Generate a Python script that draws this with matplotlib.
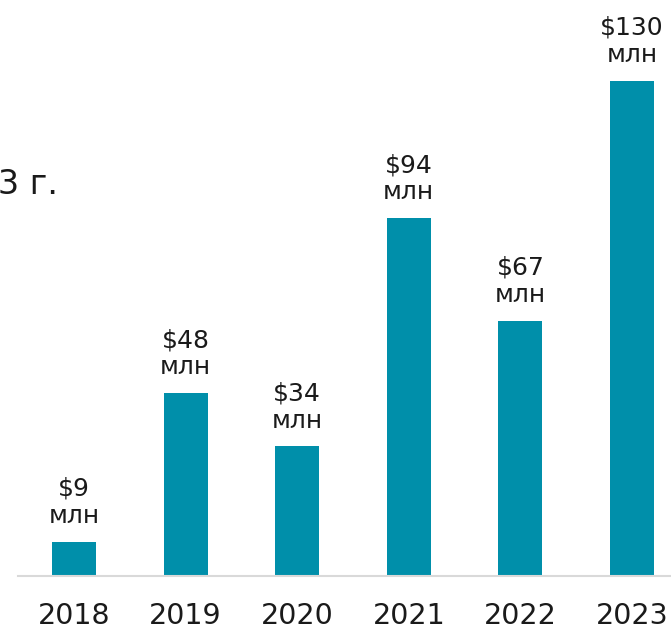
import matplotlib.pyplot as plt

years = ['2018', '2019', '2020', '2021', '2022', '2023']
values = [9, 48, 34, 94, 67, 130]
labels = ['$9\nмлн', '$48\nмлн', '$34\nмлн', '$94\nмлн', '$67\nмлн', '$130\nмлн']

plt.rcParams['font.family'] = ['DejaVu Sans']

W, H = 671, 631
fig = plt.figure(figsize=(W / 100, H / 100), dpi=100)

# axes placed in pixel terms: baseline at y=576, spanning x 18..671
ax = fig.add_axes([18 / W, (H - 576) / H, (W - 18) / W, 576 / H])
x = range(len(years))
ax.bar(x, values, width=0.395, color='#008FAA', zorder=2)
ax.set_xlim(-0.502, 5.35)
ax.set_ylim(0, 576 / 3.81)

for xi, v, lab in zip(x, values, labels):
    ax.annotate(lab, (xi, v), xytext=(0, 10), textcoords='offset points',
                ha='center', va='bottom', fontsize=18, color='#1a1a1a',
                linespacing=1.15)

ax.set_xticks(list(x))
ax.set_xticklabels(years, fontsize=20.5, color='#1a1a1a')
ax.tick_params(axis='x', length=0, pad=19)
ax.set_yticks([])
for side in ['top', 'right', 'left']:
    ax.spines[side].set_visible(False)
ax.spines['bottom'].set_color('#d9d9d9')
ax.spines['bottom'].set_linewidth(1.5)

# title cut off on the left edge
fig.text(58 / W, 1 - 194 / H, 'в 2018–2023 г.', ha='right', va='baseline',
         fontsize=24, color='#1a1a1a')

fig.savefig('out.png', dpi=100)
